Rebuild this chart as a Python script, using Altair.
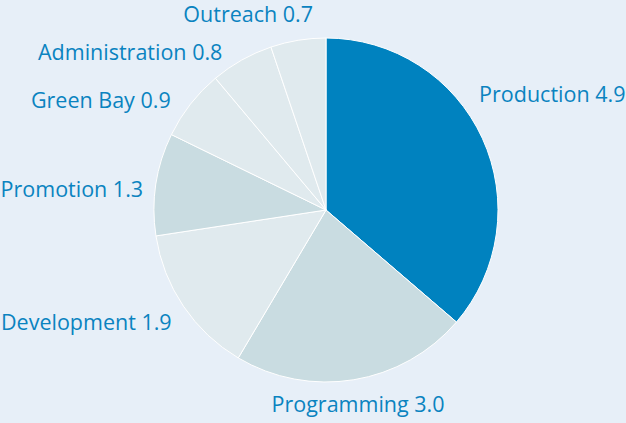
import math
import altair as alt
import pandas as pd

categories = ["Production", "Programming", "Development", "Promotion",
              "Green Bay", "Administration", "Outreach"]
values = [4.9, 3.0, 1.9, 1.3, 0.9, 0.8, 0.7]
colors = ["#0082BF", "#C9DCE1", "#E0EAEE", "#C9DCE1", "#E0EAEE", "#E0EAEE", "#E0EAEE"]

df = pd.DataFrame({"cat": categories, "value": values, "idx": list(range(len(values)))})
df["end"] = df["value"].cumsum()
df["mid"] = df["end"] - df["value"] / 2
df["label"] = [f"{c} {v:.1f}" for c, v in zip(categories, values)]

total = float(sum(values))
theta_scale = alt.Scale(domain=[0, total], nice=False)

pie = alt.Chart(df).mark_arc(outerRadius=172, stroke="white", strokeWidth=1).encode(
    theta=alt.Theta("value:Q", stack=True, scale=theta_scale),
    color=alt.Color("cat:N", scale=alt.Scale(domain=categories, range=colors), legend=None),
    order=alt.Order("idx:Q"),
)

# label styling: (category, align, dx, dy)
label_styles = [
    ("Production", "left", -15, -31),
    ("Programming", "center", 2, 19),
    ("Development", "right", -1, 16.5),
    ("Promotion", "right", 0, 15.3),
    ("Green Bay", "right", -9.5, 12.2),
    ("Administration", "right", -13, 11.3),
    ("Outreach", "right", 17, -5.7),
]

labels = []
for cat, align, dx, dy in label_styles:
    labels.append(
        alt.Chart(df).transform_filter(alt.datum.cat == cat).mark_text(
            align=align, baseline="alphabetic", dx=dx, dy=dy,
            font="Open Sans", fontSize=21.5, color="#0A83C0",
        ).encode(
            theta=alt.Theta("mid:Q", stack=False, scale=theta_scale),
            radius=alt.value(185),
            text="label:N",
        )
    )

chart = alt.layer(pie, *labels).properties(
    width=600, height=420,
    padding={"left": 26, "top": 0, "right": 0, "bottom": 3},
    autosize="none",
    background="#E7EFF8",
).configure_view(strokeWidth=0)

chart.save("out.html", embed_options={"renderer": "svg", "actions": False})
